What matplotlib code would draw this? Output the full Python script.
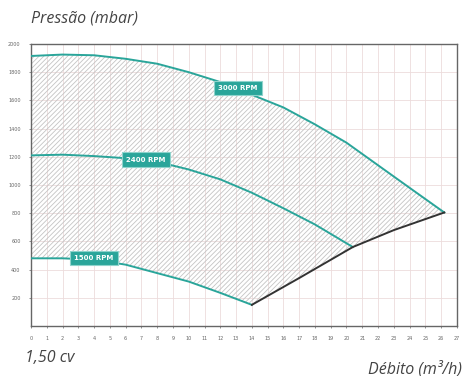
import matplotlib.pyplot as plt
import numpy as np

# curvas da bomba (caudal m3/h, pressão mbar)
x_3000 = [0, 2, 4, 6, 8, 10, 12, 14, 16, 18, 20, 22, 24, 26.2]
y_3000 = [1915, 1925, 1920, 1895, 1860, 1800, 1730, 1640, 1550, 1430, 1300, 1140, 980, 805]

x_2400 = [0, 2, 4, 6, 8, 10, 12, 14, 16, 18, 20.4]
y_2400 = [1210, 1215, 1205, 1190, 1165, 1110, 1040, 945, 835, 720, 560]

x_1500 = [0, 2, 4, 6, 8, 10, 12, 14]
y_1500 = [480, 480, 470, 435, 375, 315, 235, 150]

x_lim = [14, 17, 20.4, 23, 26.2]
y_lim = [150, 340, 560, 680, 805]

labels = ["3000 RPM", "2400 RPM", "1500 RPM"]
label_pos = [(13.1, 1690), (7.3, 1180), (4.0, 480)]

teal = "#2aa59a"
plt.rcParams["hatch.linewidth"] = 0.6

fig = plt.figure(figsize=(4.67, 3.76), dpi=100)
ax = fig.add_axes([0.0664, 0.133, 0.912, 0.750])

# zona de funcionamento (tracejado)
poly_x = x_1500 + x_lim[1:] + x_3000[::-1]
poly_y = y_1500 + y_lim[1:] + y_3000[::-1]
ax.fill(poly_x, poly_y, facecolor="none", edgecolor="#c4c4c4", hatch="///////", linewidth=0, zorder=1)

ax.plot(x_3000, y_3000, color=teal, lw=1.4, zorder=3)
ax.plot(x_2400, y_2400, color=teal, lw=1.4, zorder=3)
ax.plot(x_1500, y_1500, color=teal, lw=1.4, zorder=3)
ax.plot(x_lim, y_lim, color="#333333", lw=1.4, zorder=3)

for txt, (lx, ly) in zip(labels, label_pos):
    ax.text(lx, ly, txt, fontsize=5, color="white", fontweight="bold", ha="center", va="center",
            zorder=5, bbox=dict(boxstyle="square,pad=0.6", facecolor=teal, edgecolor="#8fd3cc", lw=0.8))

ax.set_xlim(0, 27)
ax.set_ylim(0, 2000)
ax.set_xticks(range(0, 28))
ax.set_yticks(range(200, 2001, 200))
ax.tick_params(labelsize=3.5, colors="#666666", length=1.5, width=0.5, pad=6)
ax.grid(True, color="#ecdcdc", lw=0.6, zorder=0)
ax.set_axisbelow(True)
for s in ax.spines.values():
    s.set_color("#666666")
    s.set_linewidth(1.0)

font = dict(fontsize=11.5, style="italic", family="Open Sans", color="#444444", va="center")
fig.text(0.066, 0.952, "Pressão (mbar)", **font)
fig.text(0.053, 0.048, "1,50 cv", **font)
fig.text(0.99, 0.018, "Débito (m³/h)", ha="right", **font)

fig.savefig("out.png", dpi=100)
